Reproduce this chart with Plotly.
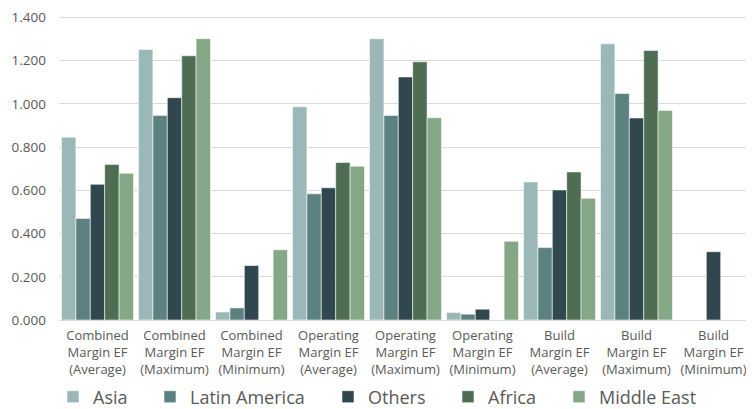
import plotly.graph_objects as go

categories = [
    "Combined<br>Margin EF<br>(Average)",
    "Combined<br>Margin EF<br>(Maximum)",
    "Combined<br>Margin EF<br>(Minimum)",
    "Operating<br>Margin EF<br>(Average)",
    "Operating<br>Margin EF<br>(Maximum)",
    "Operating<br>Margin EF<br>(Minimum)",
    "Build<br>Margin EF<br>(Average)",
    "Build<br>Margin EF<br>(Maximum)",
    "Build<br>Margin EF<br>(Minimum)",
]

asia = [0.846, 1.252, 0.037, 0.987, 1.302, 0.035, 0.639, 1.278, 0.0]
latin_america = [0.470, 0.947, 0.056, 0.584, 0.947, 0.027, 0.335, 1.048, 0.0]
others = [0.628, 1.029, 0.252, 0.612, 1.125, 0.050, 0.602, 0.935, 0.316]
africa = [0.720, 1.223, 0.0, 0.729, 1.195, 0.0, 0.685, 1.247, 0.0]
middle_east = [0.679, 1.302, 0.325, 0.712, 0.936, 0.364, 0.563, 0.970, 0.0]

y_tick_values = [0.0, 0.2, 0.4, 0.6, 0.8, 1.0, 1.2, 1.4]

series_names = ["Asia", "Latin America", "Others", "Africa", "Middle East"]
series_values = [asia, latin_america, others, africa, middle_east]
series_colors = ["#9BB8B8", "#5B8180", "#31474F", "#4E6D52", "#84A886"]

# page body has an 8px default margin, so the figure is drawn 8px in and 8px down
BODY = 8
W, H = 754 - BODY, 409 - BODY
Y_MAX = 1.444
L, R, T, B = 51, 2, 0, 89
plot_w = W - L - R

# absolute left pixel of each legend entry
legend_left_px = [53, 150, 328, 448, 559]

font_family = "Open Sans, Liberation Sans, sans-serif"

fig = go.Figure()
layout_legends = {}
for i, (name, vals, color) in enumerate(zip(series_names, series_values, series_colors)):
    key = "legend" if i == 0 else f"legend{i+1}"
    fig.add_trace(go.Bar(
        name=name, x=categories, y=vals, legend=key,
        marker=dict(color=color, line=dict(color="rgba(255,255,255,0.7)", width=0.8)),
    ))
    layout_legends[key] = dict(
        orientation="h",
        x=(legend_left_px[i] - BODY - L) / plot_w, xanchor="left",
        yref="container", y=12 / H, yanchor="middle",
        font=dict(size=18, color="#595959"),
        itemwidth=30, bgcolor="rgba(0,0,0,0)",
    )

fig.update_layout(
    width=W, height=H,
    barmode="group", bargap=0.065, bargroupgap=0,
    paper_bgcolor="white", plot_bgcolor="white",
    margin=dict(l=L, r=R, t=T, b=B),
    font=dict(family=font_family, color="#595959"),
    yaxis=dict(
        range=[0, Y_MAX], tickmode="array", tickvals=y_tick_values, tickformat=".3f",
        showgrid=True, gridcolor="#D9D9D9", gridwidth=1.2,
        zeroline=False, showline=False, ticks="", automargin=False,
        ticklabelstandoff=12, ticklabeloverflow="allow",
        tickfont=dict(size=13.5, color="#595959"),
    ),
    xaxis=dict(
        showline=True, linecolor="#D9D9D9", linewidth=1.2, automargin=False,
        ticks="", ticklabelstandoff=3,
        tickfont=dict(size=13, color="#595959"),
    ),
    showlegend=True,
    **layout_legends,
)

fig.write_html("out.html")
